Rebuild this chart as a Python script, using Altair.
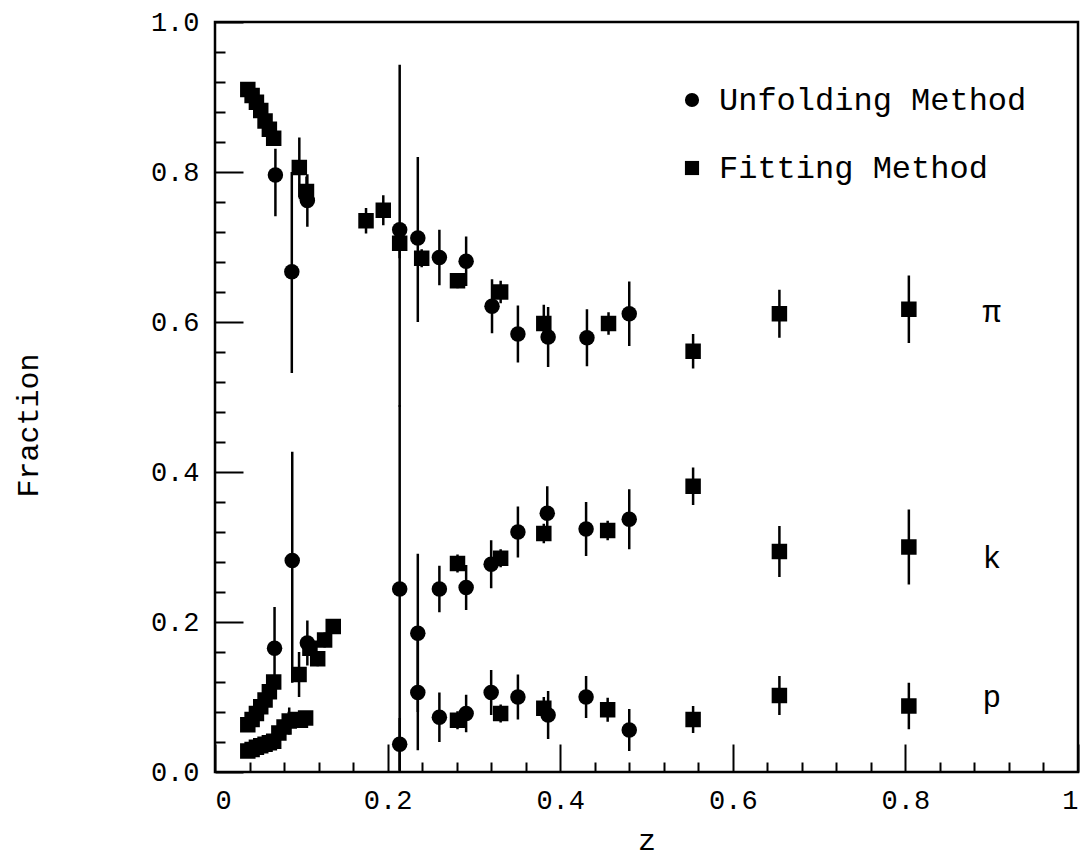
import altair as alt
import pandas as pd

FONT = "Liberation Mono"

# ---------------- Unfolding Method (circles) ----------------
unf_pi_z = [0.070, 0.089, 0.107, 0.214, 0.235, 0.260, 0.291, 0.321, 0.351, 0.386, 0.431, 0.480]
unf_pi_f = [0.796, 0.667, 0.762, 0.723, 0.712, 0.686, 0.681, 0.621, 0.584, 0.580, 0.579, 0.611]
unf_pi_dn = [0.055, 0.135, 0.035, 0.236, 0.112, 0.037, 0.033, 0.036, 0.038, 0.040, 0.038, 0.043]
unf_pi_up = [0.035, 0.133, 0.035, 0.220, 0.108, 0.037, 0.033, 0.036, 0.038, 0.040, 0.038, 0.043]

unf_k_z = [0.069, 0.0895, 0.107, 0.214, 0.235, 0.260, 0.291, 0.320, 0.351, 0.385, 0.430, 0.480]
unf_k_f = [0.165, 0.282, 0.172, 0.244, 0.185, 0.244, 0.246, 0.277, 0.320, 0.345, 0.324, 0.337]
unf_k_dn = [0.045, 0.163, 0.030, 0.244, 0.105, 0.031, 0.030, 0.032, 0.034, 0.036, 0.036, 0.040]
unf_k_up = [0.055, 0.145, 0.030, 0.245, 0.106, 0.031, 0.030, 0.032, 0.034, 0.036, 0.036, 0.040]

unf_p_z = [0.214, 0.235, 0.260, 0.291, 0.320, 0.351, 0.386, 0.430, 0.480]
unf_p_f = [0.037, 0.106, 0.073, 0.078, 0.106, 0.100, 0.076, 0.100, 0.056]
unf_p_dn = [0.035, 0.077, 0.033, 0.025, 0.030, 0.030, 0.032, 0.028, 0.028]
unf_p_up = [0.035, 0.080, 0.033, 0.025, 0.030, 0.030, 0.032, 0.028, 0.028]

# ---------------- Fitting Method (squares) ----------------
fit_pi_z = [0.038, 0.043, 0.048, 0.053, 0.058, 0.063, 0.068, 0.0977, 0.106, 0.175, 0.195,
            0.214, 0.2395, 0.281, 0.331, 0.381, 0.456, 0.554, 0.654, 0.804]
fit_pi_f = [0.910, 0.902, 0.893, 0.882, 0.868, 0.857, 0.845, 0.806, 0.774, 0.735, 0.749,
            0.705, 0.685, 0.655, 0.640, 0.598, 0.598, 0.561, 0.611, 0.617]
fit_pi_e = [0.008, 0.008, 0.008, 0.008, 0.008, 0.008, 0.008, 0.040, 0.020, 0.017, 0.020,
            0.020, 0.012, 0.010, 0.015, 0.025, 0.015, 0.023, 0.032, 0.045]

fit_k_z = [0.038, 0.043, 0.048, 0.053, 0.058, 0.063, 0.068, 0.0974, 0.110, 0.119, 0.127,
           0.137, 0.281, 0.331, 0.381, 0.455, 0.554, 0.654, 0.804]
fit_k_f = [0.063, 0.070, 0.078, 0.087, 0.096, 0.107, 0.120, 0.130, 0.165, 0.151, 0.176,
           0.194, 0.278, 0.285, 0.318, 0.322, 0.381, 0.294, 0.300]
fit_k_e = [0.008, 0.008, 0.008, 0.008, 0.008, 0.008, 0.008, 0.030, 0.010, 0.010, 0.010,
           0.010, 0.012, 0.012, 0.013, 0.013, 0.025, 0.034, 0.050]

fit_p_z = [0.038, 0.043, 0.048, 0.053, 0.058, 0.063, 0.068, 0.074, 0.080, 0.086, 0.093,
           0.099, 0.105, 0.281, 0.331, 0.381, 0.455, 0.554, 0.654, 0.804]
fit_p_f = [0.028, 0.030, 0.033, 0.035, 0.037, 0.039, 0.041, 0.052, 0.060, 0.068, 0.070,
           0.069, 0.072, 0.069, 0.078, 0.085, 0.083, 0.070, 0.102, 0.088]
fit_p_e = [0.005, 0.005, 0.005, 0.005, 0.005, 0.005, 0.005, 0.008, 0.008, 0.018, 0.008,
           0.008, 0.008, 0.012, 0.012, 0.015, 0.016, 0.018, 0.026, 0.031]

# species labels
lab_text = ["π", "k", "p"]
lab_z = [0.90, 0.90, 0.90]
lab_f = [0.600, 0.272, 0.087]

# axis ticks
x_major = [0, 0.2, 0.4, 0.6, 0.8, 1.0]
x_minor = [0.04, 0.08, 0.12, 0.16, 0.24, 0.28, 0.32, 0.36, 0.44, 0.48, 0.52, 0.56,
           0.64, 0.68, 0.72, 0.76, 0.84, 0.88, 0.92, 0.96]
y_major = [0, 0.2, 0.4, 0.6, 0.8, 1.0]
y_minor = x_minor

METHODS = ["Unfolding Method", "Fitting Method"]

rows = []
def add(method, species, zs, fs, dn, up):
    for z, f, d, u in zip(zs, fs, dn, up):
        rows.append(dict(z=z, f=f, lo=max(f - d, 0.0), hi=f + u, method=method, species=species))

add(METHODS[0], "pi", unf_pi_z, unf_pi_f, unf_pi_dn, unf_pi_up)
add(METHODS[0], "k", unf_k_z, unf_k_f, unf_k_dn, unf_k_up)
add(METHODS[0], "p", unf_p_z, unf_p_f, unf_p_dn, unf_p_up)
add(METHODS[1], "pi", fit_pi_z, fit_pi_f, fit_pi_e, fit_pi_e)
add(METHODS[1], "k", fit_k_z, fit_k_f, fit_k_e, fit_k_e)
add(METHODS[1], "p", fit_p_z, fit_p_f, fit_p_e, fit_p_e)
df = pd.DataFrame(rows)
labels_df = pd.DataFrame(dict(text=lab_text, z=lab_z, f=lab_f))

xscale = alt.Scale(domain=[0, 1], nice=False, zero=False)
yscale = alt.Scale(domain=[0, 1], nice=False, zero=False)

MAJ = 28
MIN = 10

x_major_axis = alt.Axis(values=x_major, format="~g", orient="bottom", offset=-MAJ, tickSize=MAJ,
                        tickWidth=2, tickColor="black", domain=False, grid=False,
                        labelFont=FONT, labelFontSize=27, labelColor="black", labelPadding=15,
                        title="z", titleFont=FONT, titleFontSize=30, titleFontWeight="normal",
                        titleColor="black", titleY=96, titleBaseline="middle")
y_major_axis = alt.Axis(values=y_major, format=".1f", orient="left", offset=-MAJ, tickSize=MAJ,
                        tickWidth=2, tickColor="black", domain=False, grid=False,
                        labelFont=FONT, labelFontSize=27, labelColor="black", labelPadding=16,
                        title="Fraction", titleFont=FONT, titleFontSize=30, titleFontWeight="normal",
                        titleColor="black", titleX=-206, titleY=403, titleBaseline="alphabetic",
                        titleAngle=270)
x_minor_axis = alt.Axis(values=x_minor, orient="bottom", offset=-MIN, tickSize=MIN, tickWidth=2,
                        tickColor="black", domain=False, grid=False, labels=False, title=None)
y_minor_axis = alt.Axis(values=y_minor, orient="left", offset=-MIN, tickSize=MIN, tickWidth=2,
                        tickColor="black", domain=False, grid=False, labels=False, title=None)

errbars = alt.Chart(df).mark_rule(color="black", strokeWidth=2.5).encode(
    x=alt.X("z:Q", scale=xscale, axis=x_major_axis),
    y=alt.Y("lo:Q", scale=yscale, axis=y_major_axis),
    y2="hi:Q",
)

points = alt.Chart(df).mark_point(filled=True, color="black", opacity=1, size=240).encode(
    x=alt.X("z:Q", scale=xscale, axis=x_minor_axis),
    y=alt.Y("f:Q", scale=yscale, axis=y_minor_axis),
    shape=alt.Shape("method:N",
                    scale=alt.Scale(domain=METHODS, range=["circle", "square"]),
                    legend=alt.Legend(orient="none", legendX=461, legendY=62, title=None,
                                      labelFont=FONT, labelFontSize=32, labelColor="black",
                                      labelLimit=0,
                                      symbolSize=200, symbolFillColor="black",
                                      symbolStrokeColor="black", symbolOpacity=1,
                                      labelOffset=11, rowPadding=36, padding=0)),
)

texts = alt.Chart(labels_df).mark_text(font=FONT, fontSize=31, color="black",
                                       align="center", baseline="alphabetic").encode(
    x=alt.X("z:Q", scale=xscale, axis=None),
    y=alt.Y("f:Q", scale=yscale, axis=None),
    text="text:N",
)

chart = alt.layer(errbars, points, texts).resolve_axis(
    x="independent", y="independent"
).properties(
    width=863, height=750,
    autosize=alt.AutoSizeParams(type="none"),
    padding={"left": 215, "top": 22, "right": 4, "bottom": 87},
    background="white",
).configure_view(stroke="black", strokeWidth=2.5)

chart.save("out.html", embed_options={"renderer": "svg", "actions": False})
